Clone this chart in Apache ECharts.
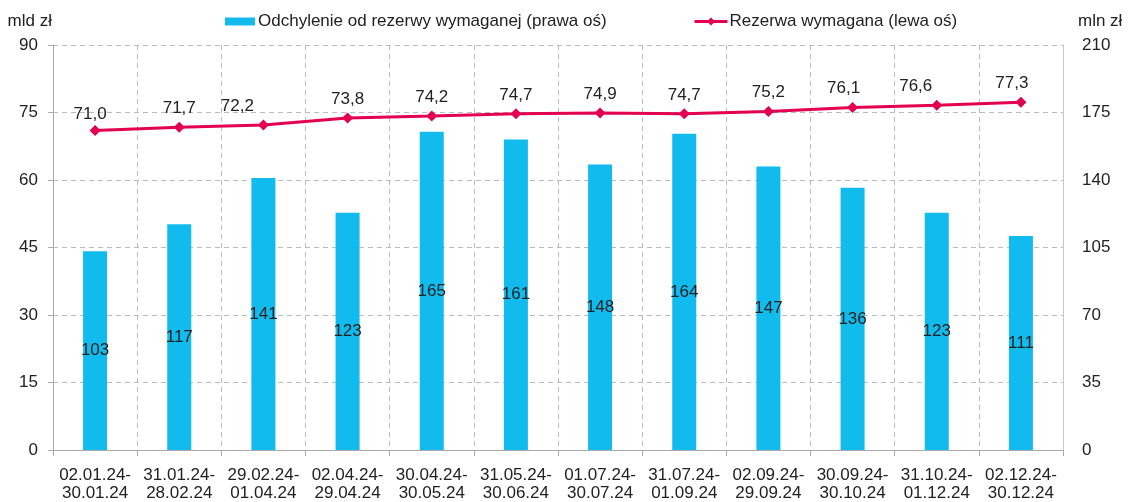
<!DOCTYPE html>
<html>
<head>
<meta charset="utf-8">
<script src="https://cdn.jsdelivr.net/npm/echarts@6/dist/echarts.min.js"></script>
<style>
  html, body { margin: 0; padding: 0; background: #fff; }
  #chart { width: 1132px; height: 502px; }
</style>
</head>
<body>
<div id="chart"></div>
<script>
// okresy utrzymywania rezerwy
const periods = [
  '02.01.24-\n30.01.24', '31.01.24-\n28.02.24', '29.02.24-\n01.04.24', '02.04.24-\n29.04.24',
  '30.04.24-\n30.05.24', '31.05.24-\n30.06.24', '01.07.24-\n30.07.24', '31.07.24-\n01.09.24',
  '02.09.24-\n29.09.24', '30.09.24-\n30.10.24', '31.10.24-\n01.12.24', '02.12.24-\n30.12.24'
];
// rezerwa wymagana, mld zł (lewa oś)
const required = [71.0, 71.7, 72.2, 73.8, 74.2, 74.7, 74.9, 74.7, 75.2, 76.1, 76.6, 77.3];
// odchylenie, mln zł (prawa oś)
const deviation = [103, 117, 141, 123, 165, 161, 148, 164, 147, 136, 123, 111];

const leftTicks = [0, 15, 30, 45, 60, 75, 90];
const rightTicks = [0, 35, 70, 105, 140, 175, 210];

const barName = 'Odchylenie od rezerwy wymaganej (prawa oś)';
const lineName = 'Rezerwa wymagana (lewa oś)';

const font = '"Liberation Sans", Arial, sans-serif';
const txt = '#222';
const cyan = '#12BBEE';
const red = '#E2004F';
const fs = 17;

// small nudges of line labels, like in the original
const labelNudge = { 0: [-5, 3], 2: [-26, 0], 9: [-9, 0], 10: [-21, 0], 11: [-9, 0] };

let chart = echarts.init(document.getElementById('chart'));

let option = {
  animation: false,
  textStyle: { fontFamily: font },
  legend: [{
    data: [{ name: barName, icon: 'rect' }],
    left: 225,
    top: 13,
    padding: 0,
    itemWidth: 30,
    itemHeight: 8,
    textStyle: { fontFamily: font, fontSize: fs, color: txt, padding: [0, 0, 0, -2] }
  }, {
    data: [lineName],
    left: 693,
    top: 13,
    padding: 0,
    itemWidth: 33,
    itemHeight: 10,
    lineStyle: { width: 3 },
    textStyle: { fontFamily: font, fontSize: fs, color: txt, padding: [0, 0, 0, -3] }
  }],
  grid: { left: 53, right: 69, top: 45, bottom: 48, containLabel: false },
  xAxis: {
    type: 'category',
    data: periods,
    axisLine: { lineStyle: { color: '#AAAAAA', width: 1 } },
    axisTick: { show: true, length: 6, lineStyle: { color: '#AAAAAA' } },
    axisLabel: { fontFamily: font, fontSize: fs, color: txt, lineHeight: 18, margin: 16, interval: 0 },
    splitLine: { show: true, lineStyle: { color: '#BBBBBB', type: [5, 4] } }
  },
  yAxis: [{
    type: 'value',
    min: leftTicks[0],
    max: leftTicks[leftTicks.length - 1],
    interval: 15,
    name: 'mld zł',
    nameLocation: 'end',
    nameGap: 15,
    nameTextStyle: { fontFamily: font, fontSize: fs, color: txt, align: 'right', padding: [0, 1, 0, 0] },
    axisLine: { show: true, lineStyle: { color: '#AAAAAA' } },
    axisTick: { show: true, length: 5, lineStyle: { color: '#AAAAAA' } },
    axisLabel: { fontFamily: font, fontSize: fs, color: txt, margin: 15 },
    splitLine: { show: true, lineStyle: { color: '#BBBBBB', type: [5, 4] } }
  }, {
    type: 'value',
    min: rightTicks[0],
    max: rightTicks[rightTicks.length - 1],
    interval: 35,
    name: 'mln zł',
    nameLocation: 'end',
    nameGap: 15,
    nameTextStyle: { fontFamily: font, fontSize: fs, color: txt, align: 'left', padding: [0, 0, 0, 15] },
    axisLine: { show: true, lineStyle: { color: '#C8C8C8' } },
    axisTick: { show: false },
    axisLabel: { fontFamily: font, fontSize: fs, color: txt, margin: 19 },
    splitLine: { show: false }
  }],
  series: [{
    name: barName,
    type: 'bar',
    yAxisIndex: 1,
    data: deviation,
    barWidth: 24,
    itemStyle: { color: cyan },
    label: {
      show: true,
      position: 'inside',
      fontFamily: font,
      fontSize: fs,
      color: txt
    },
    z: 2
  }, {
    name: lineName,
    type: 'line',
    yAxisIndex: 0,
    data: required.map(function (v, i) {
      return labelNudge[i] ? { value: v, label: { offset: labelNudge[i] } } : v;
    }),
    symbol: 'diamond',
    symbolSize: 11,
    lineStyle: { color: red, width: 3 },
    itemStyle: { color: red },
    label: {
      show: true,
      position: 'top',
      distance: 5,
      fontFamily: font,
      fontSize: fs,
      color: txt,
      formatter: function (p) { return p.value.toFixed(1).replace('.', ','); }
    },
    z: 3
  }]
};

chart.setOption(option);
</script>
</body>
</html>
